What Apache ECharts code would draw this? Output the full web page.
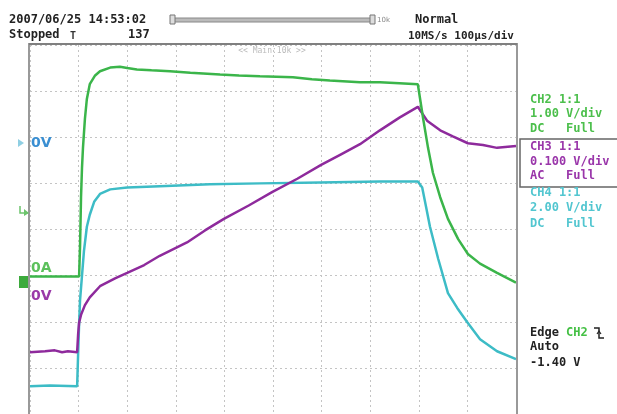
<!DOCTYPE html>
<html>
<head>
<meta charset="utf-8">
<script src="https://cdn.jsdelivr.net/npm/echarts@6/dist/echarts.min.js"></script>
<style>
html,body{margin:0;padding:0;background:#fff;}
#c{width:617px;height:414px;}
</style>
</head>
<body>
<div id="c"></div>
<script>
// Time in microseconds (100 us/div, 10 divisions), amplitude in screen divisions (center = 0)
var ch2Trace = [
  [0,-1.02],[50,-1.02],[101,-1.02],[103,-0.36],[105,0.70],[107,1.34],[109,1.77],[113,2.40],[117,2.83],
  [123,3.15],[134,3.34],[144,3.43],[165,3.51],[185,3.53],[200,3.50],[220,3.47],[250,3.45],[288,3.43],
  [330,3.40],[391,3.36],[430,3.34],[473,3.32],[541,3.30],[580,3.26],[617,3.23],[679,3.19],[720,3.19],
  [760,3.17],[798,3.15],[809,2.40],[819,1.77],[829,1.23],[844,0.70],[860,0.23],[881,-0.21],
  [901,-0.53],[926,-0.74],[961,-0.94],[1000,-1.15]
];
var ch3Trace = [
  [0,-2.66],[31,-2.64],[51,-2.62],[66,-2.66],[78,-2.64],[97,-2.66],[99,-2.28],[101,-2.02],[105,-1.85],
  [113,-1.64],[123,-1.47],[144,-1.23],[175,-1.06],[200,-0.94],[235,-0.77],[267,-0.57],[323,-0.28],
  [360,-0.02],[399,0.23],[450,0.52],[498,0.81],[550,1.10],[599,1.40],[640,1.63],[679,1.85],[720,2.15],
  [761,2.43],[798,2.66],[817,2.36],[844,2.15],[870,2.02],[901,1.87],[932,1.83],[961,1.77],[1000,1.81]
];
var ch4Trace = [
  [0,-3.40],[41,-3.38],[97,-3.40],[99,-2.70],[101,-2.06],[103,-1.53],[107,-1.00],[111,-0.47],[117,0.06],
  [123,0.32],[132,0.60],[144,0.77],[165,0.87],[200,0.91],[267,0.94],[370,0.98],[473,1.00],[597,1.02],
  [720,1.04],[798,1.04],[807,0.91],[815,0.49],[823,0.06],[840,-0.64],[860,-1.38],[879,-1.70],
  [899,-2.00],[926,-2.38],[961,-2.64],[1000,-2.81]
];
var headerTexts = ["2007/06/25 14:53:02", "Stopped", "137", "Normal", "10MS/s 100\u03bcs/div"];
var ch2Info = ["CH2 1:1", "1.00 V/div", "DC   Full"];
var ch3Info = ["CH3 1:1", "0.100 V/div", "AC   Full"];
var ch4Info = ["CH4 1:1", "2.00 V/div", "DC   Full"];
var trigInfo = ["Edge", "CH2", "Auto", "-1.40 V"];

var GREEN = '#3bb54a', PURPLE = '#8e2a9c', CYAN = '#3dbcc6';
var GREEN_T = '#4cbf4c', PURPLE_T = '#9a36aa', CYAN_T = '#52c6d0';
var MONO = 'bold 12px "DejaVu Sans Mono", monospace';
var HEAD = 'bold 12px "DejaVu Sans Mono", monospace';

function txt(x, y, s, fill, font, align) {
  return {type:'text', x:x, y:y, z:10, silent:true,
    style:{text:s, fill:fill, font:font||MONO, verticalAlign:'middle', align:align||'left'}};
}

var g = [];
// header
g.push(txt(9, 20, headerTexts[0], '#222', HEAD));
g.push(txt(9, 35, headerTexts[1], '#222', HEAD));
g.push(txt(70, 36, 'T', '#333', 'bold 10px "DejaVu Sans Mono"'));
g.push(txt(128, 35, headerTexts[2], '#222', HEAD));
g.push(txt(415, 20, headerTexts[3], '#222', HEAD));
g.push(txt(408, 36, headerTexts[4], '#222', 'bold 11px "DejaVu Sans Mono", monospace'));
// progress bar
g.push({type:'rect', shape:{x:172, y:18, width:200, height:4}, style:{fill:'#bbb', stroke:'#888', lineWidth:1}, z:10});
g.push({type:'rect', shape:{x:170, y:15, width:5, height:9}, style:{fill:'#ddd', stroke:'#777', lineWidth:1}, z:11});
g.push({type:'rect', shape:{x:370, y:15, width:5, height:9}, style:{fill:'#ddd', stroke:'#777', lineWidth:1}, z:11});
g.push(txt(377, 20, '10k', '#888', '7px "DejaVu Sans"'));
// plot border
g.push({type:'rect', shape:{x:29, y:44, width:488, height:380}, style:{fill:'none', stroke:'#999', lineWidth:2}, z:9});
g.push({type:'line', shape:{x1:29, y1:44, x2:517, y2:44}, style:{stroke:'#666', lineWidth:1}, z:9});
g.push(txt(272, 51, '<< Main:10k >>', '#bbb', '8px "DejaVu Sans Mono"', 'center'));
// left markers
g.push({type:'polygon', shape:{points:[[18,139],[24,143],[18,147]]}, style:{fill:'#8fcfe3'}, z:10});
g.push(txt(31, 143, '0V', '#3a8fd2', 'bold 14px "DejaVu Sans"'));
g.push({type:'polyline', shape:{points:[[20,206],[20,213],[28,213]]}, style:{stroke:'#6cc46c', lineWidth:1.5, fill:'none'}, z:10});
g.push({type:'polygon', shape:{points:[[24,209],[29,213],[24,216]]}, style:{fill:'#6cc46c'}, z:10});
g.push(txt(31, 268, '0A', '#5cc05c', 'bold 14px "DejaVu Sans"'));
g.push({type:'rect', shape:{x:19, y:276, width:9, height:12}, style:{fill:'#3caa3c'}, z:10});
g.push(txt(31, 296, '0V', '#9a3aa8', 'bold 14px "DejaVu Sans"'));
// right panel
var rx = 530;
g.push(txt(rx, 100, ch2Info[0], GREEN_T));
g.push(txt(rx, 114, ch2Info[1], GREEN_T));
g.push(txt(rx, 129, ch2Info[2], GREEN_T));
g.push({type:'rect', shape:{x:520, y:139, width:100, height:48}, style:{fill:'none', stroke:'#666', lineWidth:1.5}, z:10});
g.push(txt(rx, 147, ch3Info[0], PURPLE_T));
g.push(txt(rx, 162, ch3Info[1], PURPLE_T));
g.push(txt(rx, 176, ch3Info[2], PURPLE_T));
g.push(txt(rx, 193, ch4Info[0], CYAN_T));
g.push(txt(rx, 208, ch4Info[1], CYAN_T));
g.push(txt(rx, 224, ch4Info[2], CYAN_T));
g.push(txt(rx, 333, trigInfo[0], '#222'));
g.push(txt(rx + 36, 333, trigInfo[1], '#44c044'));
g.push({type:'polyline', shape:{points:[[594,328],[599,328],[599,338],[604,338]]}, style:{stroke:'#222', lineWidth:1.5, fill:'none'}, z:10});
g.push({type:'polyline', shape:{points:[[597,334],[599,331],[601,334]]}, style:{stroke:'#222', lineWidth:1.2, fill:'none'}, z:10});
g.push(txt(rx, 347, trigInfo[2], '#222'));
g.push(txt(rx, 363, trigInfo[3], '#222'));

function lineSeries(name, data, color) {
  return {name:name, type:'line', data:data, showSymbol:false, symbol:'none', smooth:false,
    lineStyle:{color:color, width:2.5}, itemStyle:{color:color}, z:5, animation:false};
}

var chart = echarts.init(document.getElementById('c'), null, {renderer:'canvas'});
chart.setOption({
  animation:false,
  backgroundColor:'#fff',
  grid:{left:30, top:45, width:486, height:376, containLabel:false},
  xAxis:{type:'value', min:0, max:1000, interval:100,
    axisLine:{show:false}, axisTick:{show:false}, axisLabel:{show:false},
    splitLine:{show:true, lineStyle:{color:'#c4c4c4', width:1, type:[2,3]}}},
  yAxis:{type:'value', min:-4, max:4, interval:1,
    axisLine:{show:false}, axisTick:{show:false}, axisLabel:{show:false},
    splitLine:{show:true, lineStyle:{color:'#c4c4c4', width:1, type:[2,3]}}},
  series:[
    lineSeries('CH4', ch4Trace, CYAN),
    lineSeries('CH3', ch3Trace, PURPLE),
    lineSeries('CH2', ch2Trace, GREEN)
  ],
  graphic:g
});
</script>
</body>
</html>
